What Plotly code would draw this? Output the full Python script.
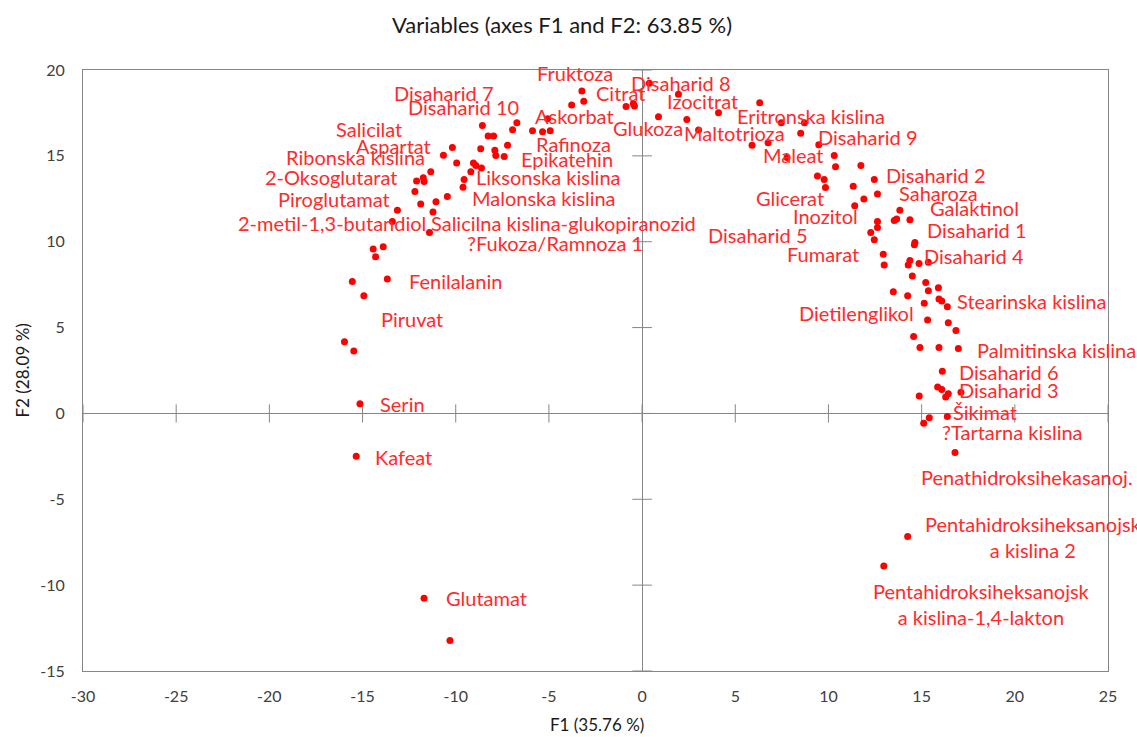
import plotly.graph_objects as go

# Variable coordinates on the first two factors (F1, F2)
f1 = [-3.23, -3.13, -3.78, -0.86, -0.47, -0.41, -5.07, -6.72, -6.95, -5.88,
      -5.34, -4.93, -8.57, -8.26, -7.97, -7.22, -8.66, -10.18, -10.66, -7.90,
      -7.85, -7.40, -9.95, -9.05, -8.92, -8.62, -9.19, -9.55, -9.61, -11.34,
      -11.74, -12.10, -11.70, -12.19, -10.45, -11.06, -11.88, -13.13, -13.40, -11.22,
      -11.41, -13.89, -14.43, -14.30, -13.67, -15.55, -14.93, -15.97, -15.47, -15.14,
      -15.34, -11.70, -10.31, 0.39, 1.95, 6.31, 4.10, 0.88, 2.40, 3.03,
      7.47, 8.71, 8.51, 6.76, 5.90, 9.48, 10.31, 7.78, 11.74, 10.38,
      9.41, 9.77, 9.84, 11.33, 12.46, 12.63, 11.90, 11.41, 13.83, 13.66,
      13.53, 14.37, 12.63, 12.63, 12.27, 12.46, 14.64, 14.61, 12.94, 12.99,
      14.37, 14.28, 14.86, 15.36, 14.50, 15.22, 15.90, 15.36, 13.48, 14.25,
      15.93, 16.08, 16.38, 15.14, 15.32, 16.43, 16.84, 14.57, 14.91, 15.93,
      16.97, 16.11, 15.86, 16.08, 16.43, 16.29, 17.11, 14.87, 15.41, 15.11,
      16.38, 16.79, 14.25, 12.97]
f2 = [18.78, 18.18, 17.96, 17.88, 18.04, 17.90, 17.16, 16.93, 16.52, 16.46,
      16.40, 16.46, 16.77, 16.15, 16.15, 15.62, 15.41, 15.49, 15.04, 15.33,
      15.02, 14.96, 14.59, 14.59, 14.44, 14.30, 14.07, 13.62, 13.17, 14.07,
      13.72, 13.54, 13.50, 12.93, 12.64, 12.33, 12.20, 11.83, 11.18, 11.73,
      10.54, 9.70, 9.57, 9.12, 7.83, 7.68, 6.86, 4.17, 3.64, 0.57,
      -2.49, -10.77, -13.23, 19.23, 18.59, 18.10, 17.51, 17.28, 17.12, 16.50,
      16.93, 16.93, 16.31, 15.76, 15.62, 15.64, 15.02, 14.90, 14.44, 14.36,
      13.83, 13.62, 13.15, 13.23, 13.62, 12.78, 12.49, 12.10, 11.83, 11.32,
      11.24, 11.28, 11.18, 10.83, 10.54, 10.11, 9.95, 9.82, 9.27, 8.65,
      8.90, 8.65, 8.73, 8.81, 8.01, 7.62, 7.32, 7.15, 7.09, 6.86,
      6.66, 6.55, 6.21, 6.41, 5.44, 5.28, 4.83, 4.48, 3.84, 3.84,
      3.78, 2.45, 1.54, 1.40, 1.15, 0.95, 1.23, 1.01, -0.25, -0.57,
      -0.18, -2.28, -7.17, -8.88]

# Variable names
label_names = [
    "Fruktoza", "Disaharid 8", "Citrat", "Izocitrat", "Disaharid 7", "Disaharid 10",
    "Askorbat", "Eritronska kislina", "Glukoza", "Maltotrioza", "Disaharid 9", "Maleat",
    "Salicilat", "Aspartat", "Ribonska kislina", "2-Oksoglutarat", "Piroglutamat",
    "2-metil-1,3-butandiol", "Salicilna kislina-glukopiranozid", "?Fukoza/Ramnoza 1",
    "Rafinoza", "Epikatehin", "Liksonska kislina", "Malonska kislina", "Disaharid 2",
    "Saharoza", "Galaktinol", "Glicerat", "Inozitol", "Disaharid 1", "Disaharid 5",
    "Fumarat", "Disaharid 4", "Stearinska kislina", "Dietilenglikol",
    "Palmitinska kislina", "Disaharid 6", "Disaharid 3", "Šikimat", "?Tartarna kislina",
    "Penathidroksihekasanoj.", "Pentahidroksiheksanojsk<br>a kislina 2",
    "Pentahidroksiheksanojsk<br>a kislina-1,4-lakton", "Fenilalanin", "Piruvat",
    "Serin", "Kafeat", "Glutamat",
]

# Where each name is written (data units, text centre)
label_x = [-3.59, 2.09, -1.18, 3.22, -10.62, -9.60, -3.65, 9.07, 0.32, 4.94, 12.12, 8.10,
           -14.65, -13.36, -15.40, -16.68, -16.52, -16.63, -4.24, -4.67, -3.70, -4.02,
           -5.04, -5.26, 15.77, 15.88, 17.86, 7.94, 9.82, 17.97, 6.22, 9.71, 17.81,
           20.87, 11.48, 22.21, 19.69, 19.69, 18.40, 19.85, 20.65, 20.98, 18.19,
           -10.03, -12.34, -12.88, -12.82, -8.37]
label_y = [19.83, 19.24, 18.66, 18.20, 18.66, 17.85, 17.32, 17.32, 16.62, 16.33, 16.10, 15.05,
           16.57, 15.58, 14.94, 13.77, 12.49, 11.09, 11.09, 9.93, 15.70, 14.82,
           13.77, 12.55, 13.89, 12.84, 11.97, 12.55, 11.50, 10.69, 10.40, 9.29, 9.17,
           6.55, 5.86, 3.70, 2.42, 1.37, 0.09, -1.06, -3.69, -7.18, -11.08,
           7.72, 5.51, 0.56, -2.53, -10.73]

x_ticks = list(range(-30, 26, 5))
y_ticks = list(range(-15, 21, 5))

AXIS_GREY = "#868686"
RED = "#ff0000"
FONT = "Lato"

fig = go.Figure()

# Cross tick marks along the zero lines
fig.add_trace(go.Scatter(
    x=x_ticks, y=[0] * len(x_ticks), mode="markers", hoverinfo="skip",
    marker=dict(symbol="line-ns", size=13, line=dict(color=AXIS_GREY, width=1)),
    showlegend=False, cliponaxis=False,
))
fig.add_trace(go.Scatter(
    x=[0] * len(y_ticks), y=y_ticks, mode="markers", hoverinfo="skip",
    marker=dict(symbol="line-ew", size=14, line=dict(color=AXIS_GREY, width=1)),
    showlegend=False, cliponaxis=False,
))

fig.add_trace(go.Scatter(
    x=f1, y=f2, mode="markers",
    marker=dict(color=RED, size=7),
    showlegend=False, cliponaxis=False,
))

for name, lx, ly in zip(label_names, label_x, label_y):
    fig.add_annotation(
        x=lx, y=ly, text=name, showarrow=False, xanchor="center", yanchor="middle",
        font=dict(family=FONT, size=20, color="#ff2a2a"), align="center",
    )

# Axis titles
fig.add_annotation(
    text="F1 (35.76 %)", xref="paper", yref="paper",
    x=(597 - 83) / 1025, y=-(724 - 671) / 601, xanchor="center", yanchor="middle",
    showarrow=False, font=dict(family=FONT, size=17, color="#1a1a1a"),
)
fig.add_annotation(
    text="F2 (28.09 %)", xref="paper", yref="paper",
    x=-(83 - 22) / 1025, y=0.5, xanchor="center", yanchor="middle", textangle=-90,
    showarrow=False, font=dict(family=FONT, size=17, color="#1a1a1a"),
)

fig.update_layout(
    width=1137, height=737,
    margin=dict(l=83, r=29, t=70, b=66, autoexpand=False),
    paper_bgcolor="white", plot_bgcolor="white",
    title=dict(
        text="Variables (axes F1 and F2: 63.85 %)",
        x=562 / 1137, xref="container", xanchor="center",
        y=1 - 25 / 737, yref="container", yanchor="middle",
        font=dict(family=FONT, size=22, color="#1a1a1a"),
    ),
    font=dict(family=FONT),
)

fig.update_xaxes(
    range=[-30, 25], tickvals=x_ticks, ticktext=[str(v) for v in x_ticks],
    showgrid=False, automargin=False,
    zeroline=True, zerolinecolor=AXIS_GREY, zerolinewidth=1,
    showline=True, linecolor=AXIS_GREY, linewidth=1, mirror=True,
    ticks="outside", ticklen=11, tickcolor="rgba(0,0,0,0)",
    tickfont=dict(family=FONT, size=16, color="#404040"),
)
fig.update_yaxes(
    range=[-15, 20], tickvals=y_ticks, ticktext=[str(v) for v in y_ticks],
    showgrid=False, automargin=False,
    zeroline=True, zerolinecolor=AXIS_GREY, zerolinewidth=1,
    showline=True, linecolor=AXIS_GREY, linewidth=1, mirror=True,
    ticks="outside", ticklen=14, tickcolor="rgba(0,0,0,0)",
    tickfont=dict(family=FONT, size=16, color="#404040"),
)

fig.write_html("out.html")
